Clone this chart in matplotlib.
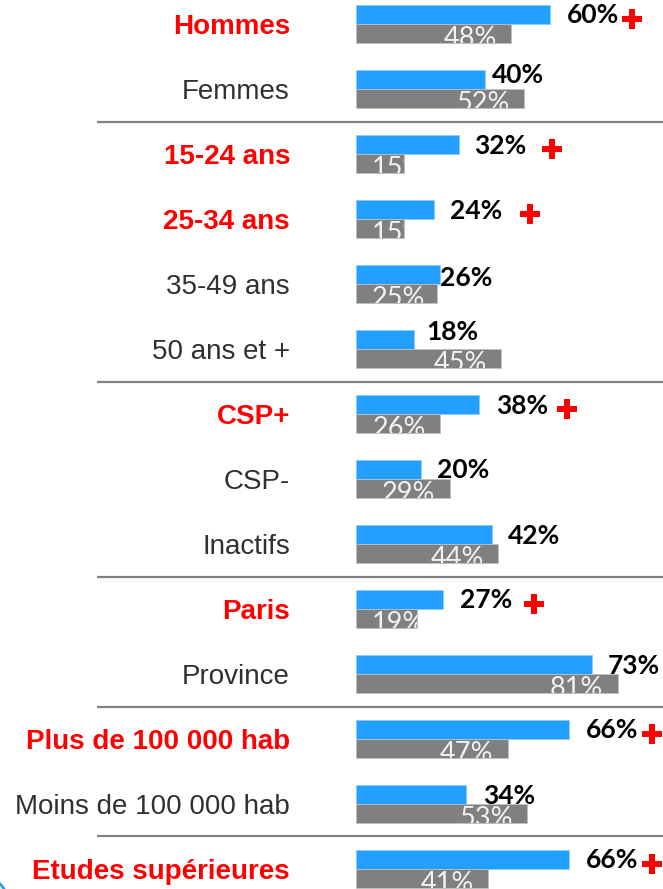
import matplotlib
matplotlib.use("Agg")
import matplotlib.pyplot as plt
from matplotlib.transforms import offset_copy
from matplotlib.patches import Circle

# ---- data ----
categories = ["Hommes", "Femmes", "15-24 ans", "25-34 ans", "35-49 ans", "50 ans et +",
              "CSP+", "CSP-", "Inactifs", "Paris", "Province", "Plus de 100 000 hab",
              "Moins de 100 000 hab", "Etudes supérieures"]
blue_values = [60, 40, 32, 24, 26, 18, 38, 20, 42, 27, 73, 66, 34, 66]
grey_values = [48, 52, 15, 15, 25, 45, 26, 29, 44, 19, 81, 47, 53, 41]
highlight = [True, False, True, True, False, False, True, False, False, True, False, True, False, True]
group_ends = [1, 5, 8, 10, 12]

# ---- style / label placement (pixels) ----
label_dx = [17, 7, 15, 16, 0, 12, 17, 16, 16, 17, 16, 17, 17, 17]
label_dy = [0, -5, 1, 1, 3, -8, 1, 1, 1, 1, 1, 1, 1, 0]
plus_dx = [82, None, 93, 96, None, None, 88, None, None, 91, None, 83, None, 83]

BLUE = "#21A0FF"
GREY = "#808080"
RED = "#FF0000"

W, H = 663, 889
fig = plt.figure(figsize=(W / 100, H / 100), dpi=100)
ax = fig.add_axes([0, 0, 1, 1])
ax.set_axis_off()

X0 = 356.0        # pixel of value 0
PX = 3.23         # pixels per percent
ROW0 = 24.0       # pixel y of first row center
PITCH = 65.0
ax.set_xlim(-X0 / PX, (W - X0) / PX)
ax.set_ylim((H - ROW0) / PITCH, -ROW0 / PITCH)

def px2x(p):
    return (p - X0) / PX

bh = 19.0 / PITCH
n = len(categories)
ys = list(range(n))

blue_bars = ax.barh([y - bh / 2 for y in ys], blue_values, height=bh, color=BLUE,
                    edgecolor="#8CCBFF", linewidth=0.6, zorder=2)
grey_bars = ax.barh([y + bh / 2 for y in ys], grey_values, height=bh, color=GREY,
                    edgecolor="#C0C0C0", linewidth=0.6, zorder=2)

def off(dx, dy):
    return offset_copy(ax.transData, fig=fig, x=dx, y=-dy, units="dots")

for i, y in enumerate(ys):
    # category label
    ax.text(px2x(290), y, categories[i], transform=off(0, 10), ha="right", va="baseline",
            fontsize=20, fontweight="bold" if highlight[i] else "normal",
            color=RED if highlight[i] else "#303030", family="Liberation Sans")
    # blue value label
    ax.text(blue_values[i], y - bh / 2, f"{blue_values[i]}%",
            transform=off(label_dx[i], label_dy[i]), ha="left", va="center",
            fontsize=19, fontweight="bold", color="black", family="Lato", zorder=4)
    # grey value label, clipped to its bar
    cx = max(grey_values[i] - 41 / PX, 42 / PX)
    t = ax.text(cx, y + bh / 2, f"{grey_values[i]}%", transform=off(0, 5),
                ha="center", va="center", fontsize=19.5, color="#F2F2F2",
                family="Lato", zorder=3, clip_on=True)
    t.set_clip_path(grey_bars[i])
    # plus sign
    if plus_dx[i] is not None:
        ax.plot([blue_values[i]], [y - bh / 2], marker="P", markersize=14.5,
                color=RED, markeredgewidth=0, transform=off(plus_dx[i], 4),
                linestyle="none", zorder=4, clip_on=False)

for g in group_ends:
    ax.plot([px2x(97), px2x(W)], [g + 0.5, g + 0.5], color=GREY, linewidth=1.6,
            zorder=1, solid_capstyle="butt")

# small corner decoration (bottom-left), in inches from bottom-left of the figure
fig.patches.append(Circle((-0.15, (H - 900) / 100), 0.22, transform=fig.dpi_scale_trans,
                          fill=False, edgecolor=BLUE, linewidth=2.0))

fig.savefig("out.png", dpi=100)
